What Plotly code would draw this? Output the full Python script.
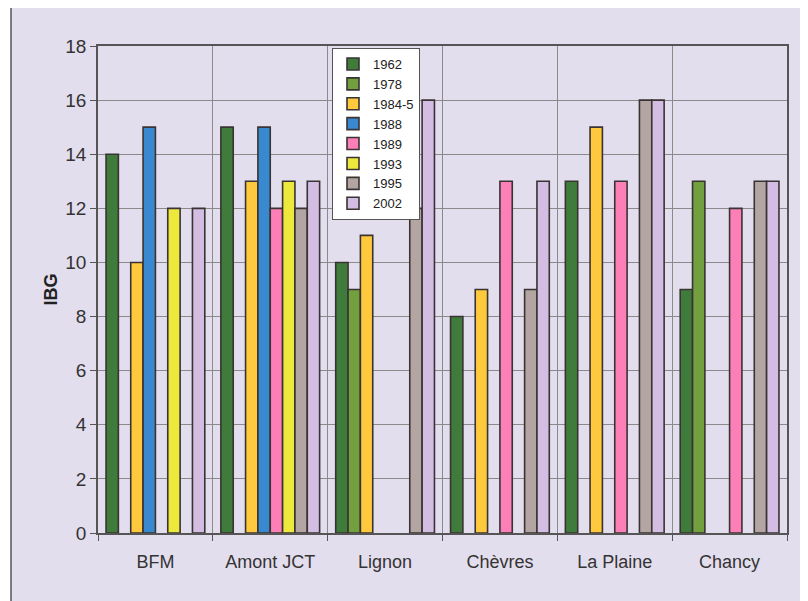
import plotly.graph_objects as go

sites = ["BFM", "Amont JCT", "Lignon", "Chèvres", "La Plaine", "Chancy"]
years = ["1962", "1978", "1984-5", "1988", "1989", "1993", "1995", "2002"]

v1962 = [14, 15, 10, 8, 13, 9]
v1978 = [None, None, 9, None, None, 13]
v1984 = [10, 13, 11, 9, 15, None]
v1988 = [15, 15, None, None, None, None]
v1989 = [None, 12, None, 13, 13, 12]
v1993 = [12, 13, None, None, None, None]
v1995 = [None, 12, 12, 9, 16, 13]
v2002 = [12, 13, 16, 13, 16, 13]

series = [v1962, v1978, v1984, v1988, v1989, v1993, v1995, v2002]
colors = ["#3f7c3c", "#72a03e", "#fec93c", "#3889cf", "#fd7fb8",
          "#ece83c", "#b3a6a2", "#d4bde3"]

fig = go.Figure()
for name, vals, col in zip(years, series, colors):
    fig.add_trace(go.Bar(
        x=sites, y=vals, name=name,
        marker=dict(color=col, line=dict(color="#3a3333", width=1.6)),
    ))

# page offset of 8px (body margin) compensated
OFF = 8
W, H = 808, 601
L, R, T = 98 - OFF, W - (787 - OFF), 46 - OFF
B = H - (533 - OFF)
pw, ph = W - L - R, H - T - B

def px_x(p):
    return (p - OFF - L) / pw

def px_y(p):
    return (H - B - (p - OFF)) / ph

fig.add_shape(type="rect", xref="paper", yref="paper",
              x0=px_x(11), x1=px_x(840), y0=px_y(640), y1=px_y(5),
              fillcolor="#e3deee", line=dict(color="#555", width=1.5),
              layer="below")

fig.update_layout(
    width=W, height=H,
    margin=dict(l=L, r=R, t=T, b=B),
    paper_bgcolor="white",
    plot_bgcolor="white",
    barmode="group",
    bargap=0.14,
    bargroupgap=0,
    font=dict(family="Liberation Sans, Arial, sans-serif", color="#333"),
    legend=dict(
        x=px_x(332), y=px_y(48), xanchor="left", yanchor="top",
        bgcolor="white", bordercolor="#555", borderwidth=1,
        font=dict(size=13, color="#222"),
        tracegroupgap=0, itemwidth=30,
    ),
    xaxis=dict(
        type="category", tickson="boundaries",
        showgrid=True, gridcolor="#8a8a8a", gridwidth=1,
        ticks="outside", ticklen=6, tickcolor="#555",
        showline=True, linecolor="#555", linewidth=1.5, mirror=True,
        tickfont=dict(size=18, color="#333"),
        ticklabelstandoff=12,
    ),
    yaxis=dict(
        range=[0, 18], dtick=2,
        showgrid=True, gridcolor="#8a8a8a", gridwidth=1,
        ticks="outside", ticklen=6, tickcolor="#555",
        showline=True, linecolor="#555", linewidth=1.5, mirror=True,
        tickfont=dict(size=19, color="#333"),
        zeroline=False,
        title=dict(text="<b>IBG</b>", font=dict(size=18, color="#222"), standoff=3),
    ),
)

fig.write_html("out.html")
